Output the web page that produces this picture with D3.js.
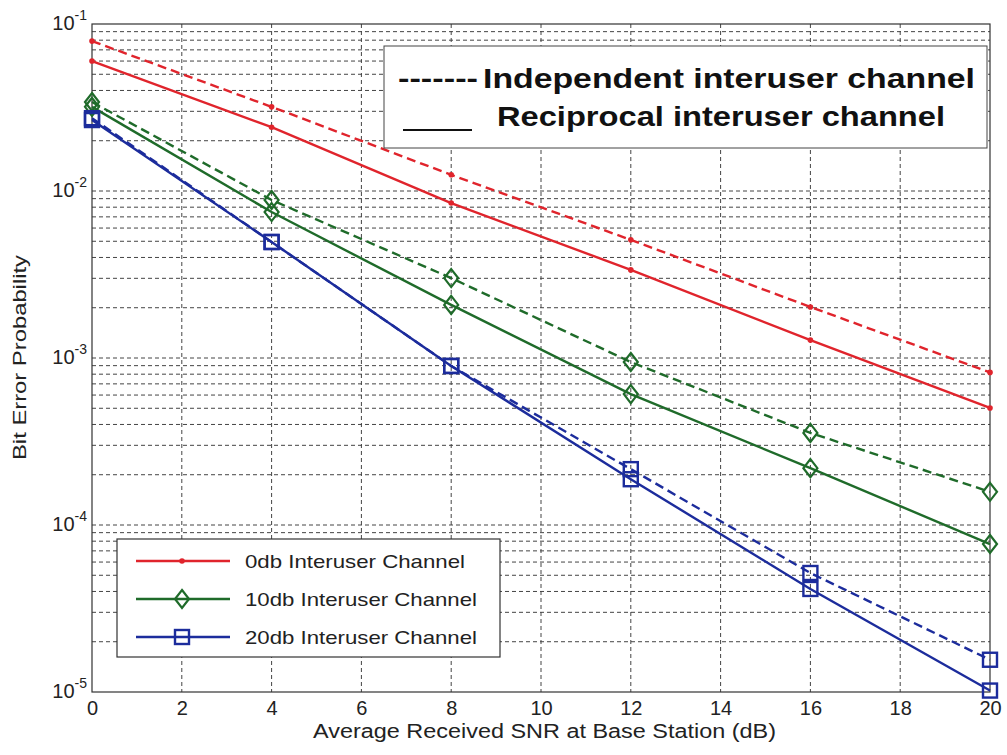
<!DOCTYPE html>
<html><head><meta charset="utf-8">
<script src="https://cdn.jsdelivr.net/npm/d3@7"></script>
<style>body{margin:0;background:#fff;} text{font-family:"Liberation Sans",Arial,sans-serif;}</style>
</head><body><svg id="c" width="1007" height="755"></svg>
<script>
const snr = [0, 4, 8, 12, 16, 20];
const red_indep = [0.079, 0.0319, 0.0125, 0.0051, 0.00202, 0.00082];
const red_recip = [0.060, 0.0241, 0.00847, 0.00337, 0.00128, 0.000502];
const green_indep = [0.0341, 0.00883, 0.00301, 0.000946, 0.000356, 0.000158];
const green_recip = [0.0319, 0.00748, 0.00208, 0.000608, 0.000219, 0.0000769];
const blue_indep = [0.0273, 0.00495, 0.000896, 0.000216, 0.0000516, 0.0000156];
const blue_recip = [0.0266, 0.00495, 0.000896, 0.000188, 0.0000414, 0.0000102];
const xTicks = [0, 2, 4, 6, 8, 10, 12, 14, 16, 18, 20];
const yDecades = [-1, -2, -3, -4, -5];
const seriesNames = ["0db Interuser Channel", "10db Interuser Channel", "20db Interuser Channel"];
const styleNames = ["Independent interuser channel", "Reciprocal interuser channel"];

const colors = ["#e0242c", "#1f6b2a", "#1c2c9c"];
const markers = ["dot", "diamond", "square"];

const svg = d3.select("#c");
const L = 92, R = 990, T = 24, B = 692;
const x = d3.scaleLinear().domain([0, 20]).range([L, R]);
const y = d3.scaleLog().domain([1e-5, 1e-1]).range([B, T]);

// grid
const g = svg.append("g");
const minorVals = [];
for (let e = -5; e < -1; e++) for (let m = 1; m <= 9; m++) minorVals.push(m * Math.pow(10, e));
g.selectAll("line.hy").data(minorVals.filter(v => v > 1e-5 && v < 0.1)).enter().append("line")
  .attr("x1", L).attr("x2", R).attr("y1", d => y(d)).attr("y2", d => y(d))
  .attr("stroke", "#444").attr("stroke-width", 1).attr("stroke-dasharray", "4,3");
g.selectAll("line.vx").data(xTicks.filter(d => d > 0 && d < 20)).enter().append("line")
  .attr("y1", T).attr("y2", B).attr("x1", d => x(d)).attr("x2", d => x(d))
  .attr("stroke", "#444").attr("stroke-width", 1).attr("stroke-dasharray", "4,3");

// frame
svg.append("rect").attr("x", L).attr("y", T).attr("width", R - L).attr("height", B - T)
  .attr("fill", "none").attr("stroke", "#333").attr("stroke-width", 1.2);

// x ticks
const xa = svg.append("g").attr("transform", `translate(0,${B})`)
  .call(d3.axisBottom(x).tickValues(xTicks).tickSize(0).tickPadding(9));
xa.select(".domain").remove();
xa.selectAll("text").attr("font-size", 20).attr("fill", "#222").attr("font-family", "'Liberation Sans', Arial, sans-serif");

// y tick labels
const yl = svg.append("g");
yDecades.forEach(e => {
  const t = yl.append("text").attr("x", L - 5).attr("y", y(Math.pow(10, e)) + 6)
    .attr("text-anchor", "end").attr("font-size", 20).attr("fill", "#222");
  t.append("tspan").text("10");
  t.append("tspan").attr("dy", -10).attr("font-size", 14).text(String(e));
});

// axis labels
svg.append("text").attr("x", 313).attr("y", 738)
  .attr("font-size", 20).attr("fill", "#222").attr("textLength", 463).attr("lengthAdjust", "spacingAndGlyphs")
  .text("Average Received SNR at Base Station (dB)");
svg.append("text").attr("transform", `translate(26,460) rotate(-90)`)
  .attr("font-size", 18).attr("fill", "#222").attr("textLength", 205).attr("lengthAdjust", "spacingAndGlyphs")
  .text("Bit Error Probability");

// lines
const line = d3.line().x(d => x(d[0])).y(d => y(d[1]));
const data = [[red_indep, red_recip], [green_indep, green_recip], [blue_indep, blue_recip]];

function drawMarker(sel, type, cx, cy, color) {
  if (type === "dot") {
    sel.append("circle").attr("cx", cx).attr("cy", cy).attr("r", 2.8).attr("fill", color);
  } else if (type === "diamond") {
    sel.append("path").attr("d", `M${cx},${cy - 9}L${cx + 7},${cy}L${cx},${cy + 9}L${cx - 7},${cy}Z`)
      .attr("fill", "none").attr("stroke", color).attr("stroke-width", 2.2);
  } else {
    sel.append("rect").attr("x", cx - 7).attr("y", cy - 7).attr("width", 14).attr("height", 14)
      .attr("fill", "none").attr("stroke", color).attr("stroke-width", 2.4);
  }
}

const lg = svg.append("g");
data.forEach((pair, i) => {
  pair.forEach((vals, j) => {
    const pts = snr.map((s, k) => [s, vals[k]]);
    lg.append("path").attr("d", line(pts)).attr("fill", "none").attr("stroke", colors[i])
      .attr("stroke-width", 2.4).attr("stroke-dasharray", j === 0 ? "9,5" : null);
    pts.forEach(p => drawMarker(lg, markers[i], x(p[0]), y(p[1]), colors[i]));
  });
});

// legend 1 (top right)
const l1 = svg.append("g");
l1.append("rect").attr("x", 384).attr("y", 46).attr("width", 603).attr("height", 102)
  .attr("fill", "#fff").attr("stroke", "#444").attr("stroke-width", 1);
l1.append("text").attr("x", 398).attr("y", 88).attr("font-size", 28).attr("font-weight", "bold")
  .attr("fill", "#111").attr("textLength", 80).attr("lengthAdjust", "spacingAndGlyphs").text("-------");
l1.append("text").attr("x", 483).attr("y", 88).attr("font-size", 28).attr("font-weight", "bold")
  .attr("fill", "#111").attr("textLength", 492).attr("lengthAdjust", "spacingAndGlyphs").text(styleNames[0]);
l1.append("line").attr("x1", 403).attr("x2", 472).attr("y1", 130).attr("y2", 130)
  .attr("stroke", "#111").attr("stroke-width", 2);
l1.append("text").attr("x", 497).attr("y", 126).attr("font-size", 28).attr("font-weight", "bold")
  .attr("fill", "#111").attr("textLength", 448).attr("lengthAdjust", "spacingAndGlyphs").text(styleNames[1]);

// legend 2 (bottom left)
const l2 = svg.append("g");
l2.append("rect").attr("x", 117).attr("y", 539).attr("width", 383).attr("height", 118)
  .attr("fill", "#fff").attr("stroke", "#333").attr("stroke-width", 1.2);
const legW = [220, 232, 232];
seriesNames.forEach((n, i) => {
  const yy = 561 + i * 38;
  l2.append("line").attr("x1", 136).attr("x2", 230).attr("y1", yy).attr("y2", yy)
    .attr("stroke", colors[i]).attr("stroke-width", 2.4);
  drawMarker(l2, markers[i], 182, yy, colors[i]);
  l2.append("text").attr("x", 245).attr("y", yy + 7).attr("font-size", 19).attr("fill", "#222")
    .attr("textLength", legW[i]).attr("lengthAdjust", "spacingAndGlyphs").text(n);
});
</script></body></html>
